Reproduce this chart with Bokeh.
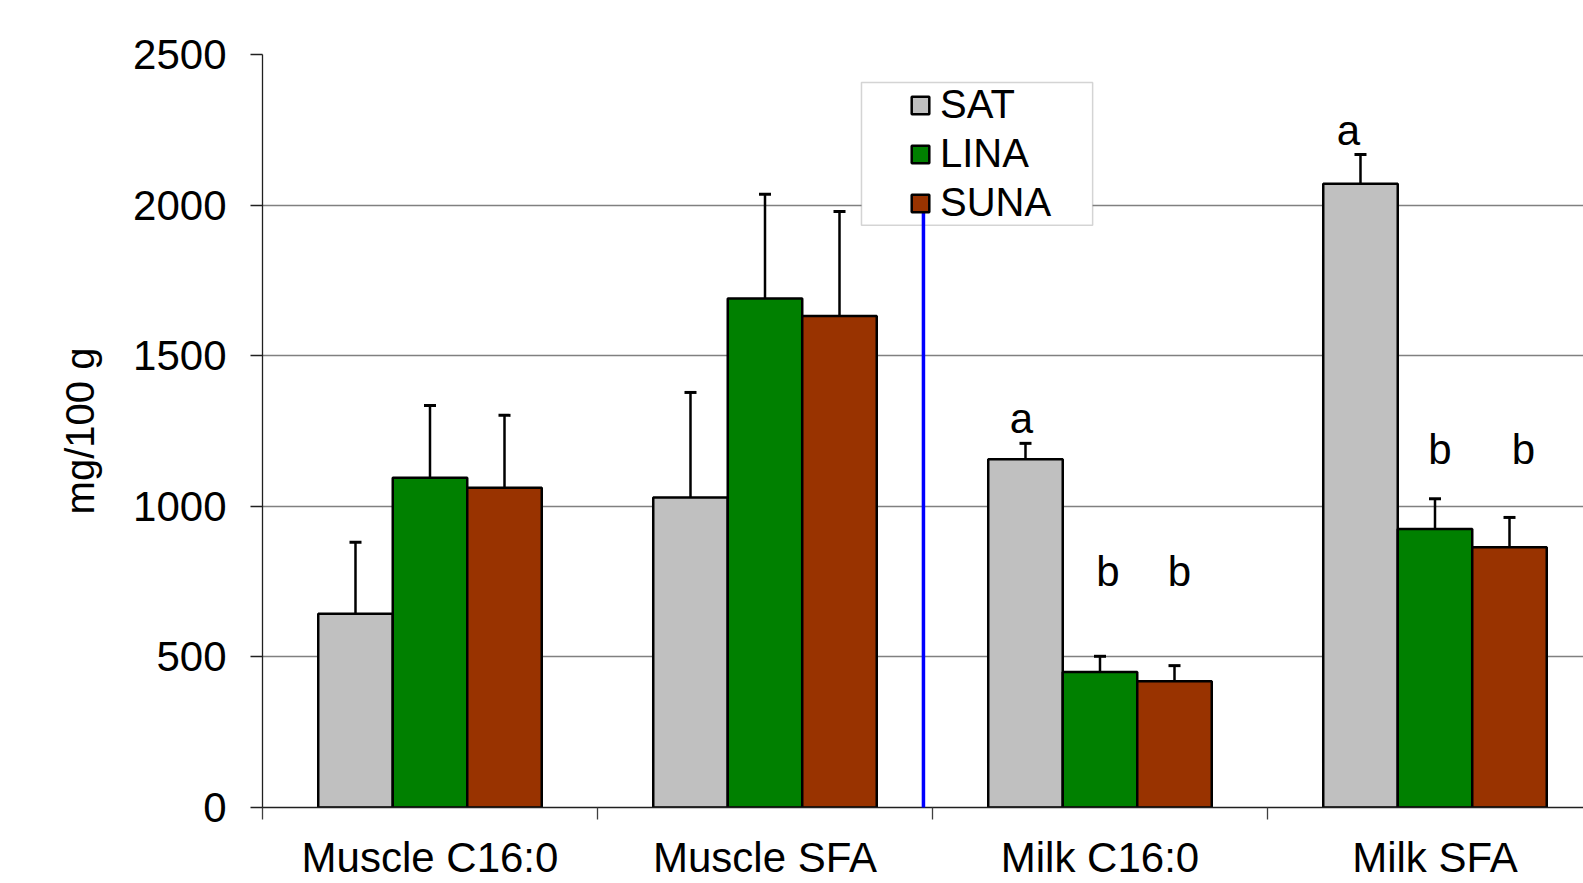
from bokeh.plotting import figure
from bokeh.models import (ColumnDataSource, FixedTicker, Legend, LegendItem,
                          Whisker, TeeHead, BoxAnnotation, Range1d)
from bokeh.core.properties import value
from bokeh.embed import file_html
from bokeh.resources import INLINE

# --- data -------------------------------------------------------------------
categories = ["Muscle C16:0", "Muscle SFA", "Milk C16:0", "Milk SFA"]
series = ["SAT", "LINA", "SUNA"]
colors = ["#C0C0C0", "#008000", "#993300"]

sat = [643, 1029, 1156, 2071]
lina = [1095, 1690, 450, 925]
suna = [1062, 1632, 419, 864]

sat_sd = [238, 349, 53, 97]
lina_sd = [240, 346, 52, 100]
suna_sd = [240, 347, 52, 99]

# significance letters (group index, series index, letter, baseline in mg/100 g)
letter_group = [2, 2, 2, 3, 3, 3]
letter_series = [0, 1, 2, 0, 1, 2]
letter_text = ["a", "b", "b", "a", "b", "b"]
letter_level = [1290, 785, 785, 2248, 1190, 1190]
letter_nudge_px = [-4, 8, 5, -12, 5, 14]

# divider between muscle and milk results
divider_x = 1.973
divider_top = 2020

y_ticks = [0, 500, 1000, 1500, 2000, 2500]

# --- layout constants -------------------------------------------------------
FONT = "Liberation Sans"
BAR_W = 0.2224
offsets = [-BAR_W, 0.0, BAR_W]

p = figure(width=1583, height=883, output_backend="svg", toolbar_location=None,
           x_range=Range1d(0, 3.9433), y_range=Range1d(0, 2500),
           min_border_left=262, min_border_right=0,
           min_border_top=54, min_border_bottom=75)
p.outline_line_color = None
p.background_fill_color = "white"
p.border_fill_color = "white"

values = [sat, lina, suna]
sds = [sat_sd, lina_sd, suna_sd]
bar_renderers = []
for k, name in enumerate(series):
    xs = [i + 0.5 + offsets[k] for i in range(len(categories))]
    src = ColumnDataSource(dict(x=xs, top=values[k],
                                upper=[v + s for v, s in zip(values[k], sds[k])]))
    r = p.vbar(x="x", top="top", width=BAR_W, bottom=0, source=src,
               fill_color=colors[k], line_color="black", line_width=2.5)
    bar_renderers.append(r)
    w = Whisker(source=src, base="x", lower="top", upper="upper",
                dimension="height", line_color="black", line_width=2.5,
                lower_head=None,
                upper_head=TeeHead(size=12, line_color="black", line_width=3))
    p.add_layout(w)

# significance letters
lsrc = ColumnDataSource(dict(
    x=[g + 0.5 + offsets[s] for g, s in zip(letter_group, letter_series)],
    y=letter_level, t=letter_text, dx=letter_nudge_px))
p.text(x="x", y="y", text="t", x_offset="dx", source=lsrc,
       text_font=value(FONT), text_font_size="42px", text_align="center",
       text_baseline="alphabetic", text_color="black")

# legend frame + legend
frame_box = BoxAnnotation(left=1.788, right=2.478, bottom=1933, top=2407,
                          fill_color="white", fill_alpha=1.0,
                          line_color="#707070", line_width=1.5)
p.add_layout(frame_box)

legend = Legend(items=[LegendItem(label=s, renderers=[r])
                       for s, r in zip(series, bar_renderers)],
                location=(647, 580), orientation="vertical",
                padding=0, spacing=0, margin=0,
                glyph_width=22, glyph_height=22, label_standoff=9,
                label_height=49,
                label_text_font=FONT, label_text_font_size="40px",
                label_text_color="black",
                border_line_color=None, background_fill_alpha=0)
p.add_layout(legend)

# blue divider drawn over everything
div = p.segment(x0=[divider_x], y0=[0], x1=[divider_x], y1=[divider_top],
                line_color="#0000FF", line_width=3.5)
div.level = "overlay"

# --- axes -------------------------------------------------------------------
centers = [i + 0.5 for i in range(len(categories))]
p.xaxis.ticker = FixedTicker(ticks=centers,
                             minor_ticks=list(range(len(categories) + 1)))
p.xaxis.major_label_overrides = {c: lab for c, lab in zip(centers, categories)}
p.xaxis.major_tick_line_color = None
p.xaxis.major_tick_out = 12
p.xaxis.major_tick_in = 0
p.xaxis.minor_tick_out = 12
p.xaxis.minor_tick_in = 0
p.xaxis.minor_tick_line_color = "#404040"
p.xaxis.minor_tick_line_width = 1.3
p.xaxis.axis_line_color = "#202020"
p.xaxis.axis_line_width = 1.3
p.xaxis.major_label_standoff = 14
p.xaxis.major_label_text_font = FONT
p.xaxis.major_label_text_font_size = "42px"
p.xaxis.major_label_text_color = "black"

p.yaxis.ticker = FixedTicker(ticks=y_ticks, minor_ticks=[])
p.yaxis.major_tick_out = 12
p.yaxis.major_tick_in = 0
p.yaxis.major_tick_line_color = "#202020"
p.yaxis.major_tick_line_width = 1.3
p.yaxis.minor_tick_line_color = None
p.yaxis.axis_line_color = "#202020"
p.yaxis.axis_line_width = 1.3
p.yaxis.major_label_standoff = 24
p.yaxis.major_label_text_font = FONT
p.yaxis.major_label_text_font_size = "42px"
p.yaxis.major_label_text_color = "black"
p.yaxis.axis_label = "mg/100 g"
p.yaxis.axis_label_text_font = FONT
p.yaxis.axis_label_text_font_size = "40px"
p.yaxis.axis_label_text_font_style = "normal"
p.yaxis.axis_label_text_color = "black"
p.yaxis.axis_label_standoff = 28

p.xgrid.visible = False
p.ygrid.grid_line_color = "#808080"
p.ygrid.grid_line_width = 1.4

open("out.html", "w").write(file_html(p, INLINE))
